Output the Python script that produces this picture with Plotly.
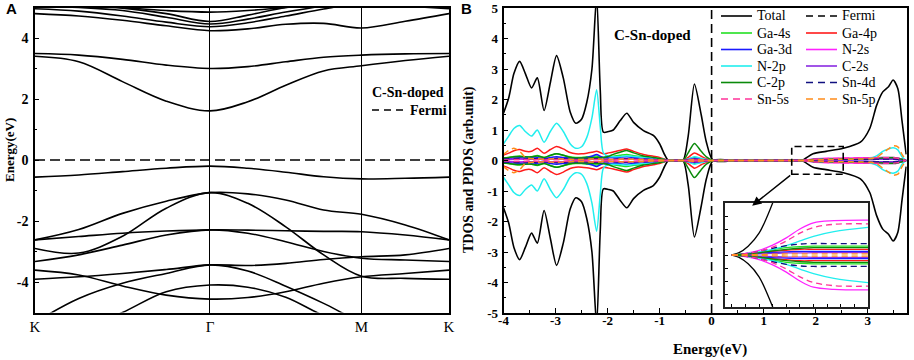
import plotly.graph_objects as go

W, H = 914, 360
SERIF = "Liberation Serif, Times New Roman, serif"

# ---------------- Panel A: band structure ----------------
k_dist = [0.0, 0.1057, 0.2113, 0.3170, 0.4226, 0.5141, 0.6057, 0.6972, 0.7887, 0.8944, 1.0]
k_label_pos = [0.0, 0.4226, 0.7887, 1.0]
k_labels = ["K", "Γ", "M", "K"]
a_ytick_vals = [-4, -2, 0, 2, 4]
a_ytick_text = ["-4", "-2", "0", "2", "4"]
fermi = 0.0

band_u5 = [5.20, 5.10, 5.00, 4.90, 4.85, 4.90, 5.00, 5.10, 5.20, 5.20, 5.20]
band_u4 = [5.10, 5.05, 4.98, 4.80, 4.54, 4.75, 5.00, 5.15, 5.30, 5.20, 5.10]
band_u3 = [5.05, 5.00, 4.90, 4.68, 4.46, 4.62, 4.85, 5.05, 5.20, 5.10, 5.05]
band_u2 = [4.96, 4.88, 4.72, 4.52, 4.37, 4.50, 4.72, 4.95, 5.15, 5.05, 4.96]
band_u1 = [4.80, 4.72, 4.58, 4.40, 4.24, 4.30, 4.45, 4.48, 4.33, 4.55, 4.80]
band_c2 = [3.49, 3.44, 3.30, 3.11, 3.00, 3.06, 3.22, 3.37, 3.44, 3.48, 3.49]
band_c1 = [3.40, 3.22, 2.57, 1.93, 1.61, 1.91, 2.45, 2.92, 3.09, 3.26, 3.40]
band_v1 = [-0.56, -0.49, -0.38, -0.27, -0.20, -0.27, -0.40, -0.55, -0.62, -0.60, -0.56]
band_v2 = [-2.62, -2.28, -1.75, -1.35, -1.07, -1.11, -1.31, -1.64, -1.78, -2.13, -2.62]
band_v3 = [-2.90, -3.05, -2.50, -1.58, -1.07, -1.42, -2.19, -3.11, -3.81, -3.88, -3.91]
band_v4 = [-2.62, -2.51, -2.40, -2.33, -2.29, -2.30, -2.32, -2.34, -2.35, -2.46, -2.62]
band_v5 = [-3.33, -3.11, -2.79, -2.46, -2.29, -2.40, -2.68, -3.00, -3.22, -3.28, -3.33]
band_v6 = [-3.91, -3.83, -3.72, -3.59, -3.44, -3.46, -3.39, -3.26, -3.17, -3.11, -2.90]
band_va = [-5.32, -4.54, -4.04, -3.72, -3.44, -3.64, -4.14, -4.70, -5.30, -5.60, -5.32]
band_vb = [-6.00, -5.60, -5.00, -4.32, -4.10, -4.17, -4.50, -5.10, -5.50, -5.80, -6.00]
band_vc = [-3.61, -3.77, -4.13, -4.43, -4.56, -4.51, -4.32, -4.04, -3.83, -3.72, -3.61]
bands = [band_u5, band_u4, band_u3, band_u2, band_u1, band_c2, band_c1, band_v1,
         band_v2, band_v3, band_v4, band_v5, band_v6, band_va, band_vb, band_vc]

# ---------------- Panel B: DOS ----------------
b_xtick_vals = [-4, -3, -2, -1, 0, 1, 2, 3]
b_xtick_text = ["-4", "-3", "-2", "-1", "0", "1", "2", "3"]
b_ytick_vals = [-5, -4, -3, -2, -1, 0, 1, 2, 3, 4, 5]
b_ytick_text = ["-5", "-4", "-3", "-2", "-1", "0", "1", "2", "3", "4", "5"]

energy = [-4.0, -3.9, -3.8, -3.69, -3.58, -3.46, -3.35, -3.22, -3.1, -2.98,
          -2.85, -2.72, -2.61, -2.5, -2.4, -2.3, -2.21, -2.14, -2.08, -1.98,
          -1.89, -1.76, -1.63, -1.5, -1.31, -1.12, -1.0, -0.9, -0.83, -0.7,
          -0.55, -0.45, -0.33, -0.2, -0.1, 0.03, 0.5, 1.0, 1.5, 1.73,
          1.95, 2.2, 2.53, 2.86, 3.04, 3.17, 3.29, 3.4, 3.49, 3.58,
          3.66, 3.74]
total_dos = [1.55, 2.05, 2.85, 3.25, 2.85, 2.38, 2.71, 1.64, 2.55, 3.44,
             2.7, 1.6, 1.22, 1.35, 1.9, 3.0, 5.4, 2.3, 0.93, 0.95,
             1.0, 1.3, 1.55, 1.25, 0.98, 0.82, 0.55, 0.18, 0.0, 0.0,
             0.0, 0.8, 2.51, 1.5, 0.6, 0.0, 0.0, 0.0, 0.0, 0.0,
             0.22, 0.3, 0.4, 0.6, 1.05, 1.8, 2.25, 2.42, 2.64, 2.35,
             1.3, 0.2]
ga4s = [0.08, 0.1, 0.13, 0.15, 0.12, 0.12, 0.16, 0.1, 0.16, 0.22,
        0.17, 0.12, 0.1, 0.1, 0.12, 0.14, 0.15, 0.12, 0.1, 0.12,
        0.14, 0.17, 0.2, 0.16, 0.12, 0.09, 0.06, 0.03, 0.0, 0.0,
        0.0, 0.04, 0.1, 0.05, 0.02, 0.0, 0.0, 0.0, 0.0, 0.0,
        0.03, 0.04, 0.05, 0.06, 0.07, 0.08, 0.1, 0.1, 0.1, 0.08,
        0.04, 0.0]
ga4p = [0.18, 0.24, 0.32, 0.36, 0.30, 0.30, 0.40, 0.24, 0.36, 0.46,
        0.38, 0.26, 0.22, 0.22, 0.24, 0.27, 0.30, 0.26, 0.22, 0.25,
        0.28, 0.33, 0.38, 0.30, 0.2, 0.14, 0.1, 0.04, 0.0, 0.0,
        0.0, 0.1, 0.25, 0.14, 0.06, 0.0, 0.0, 0.0, 0.0, 0.0,
        0.02, 0.03, 0.04, 0.04, 0.05, 0.06, 0.07, 0.08, 0.08, 0.06,
        0.03, 0.0]
ga3d = [0.05, 0.06, 0.08, 0.09, 0.08, 0.08, 0.09, 0.06, 0.1, 0.12,
        0.1, 0.07, 0.06, 0.07, 0.1, 0.14, 0.2, 0.14, 0.1, 0.1,
        0.1, 0.11, 0.12, 0.1, 0.08, 0.06, 0.04, 0.02, 0.0, 0.0,
        0.0, 0.03, 0.07, 0.04, 0.02, 0.0, 0.0, 0.0, 0.0, 0.0,
        0.02, 0.02, 0.03, 0.03, 0.04, 0.04, 0.05, 0.05, 0.05, 0.04,
        0.02, 0.0]
n2s = [0.03, 0.03, 0.04, 0.05, 0.04, 0.04, 0.05, 0.03, 0.04, 0.05,
       0.04, 0.03, 0.03, 0.03, 0.04, 0.05, 0.06, 0.05, 0.03, 0.03,
       0.03, 0.04, 0.05, 0.04, 0.03, 0.02, 0.02, 0.01, 0.0, 0.0,
       0.0, 0.01, 0.03, 0.02, 0.01, 0.0, 0.0, 0.0, 0.0, 0.0,
       0.05, 0.07, 0.08, 0.09, 0.09, 0.1, 0.1, 0.1, 0.1, 0.08,
       0.04, 0.0]
n2p = [0.55, 0.8, 1.05, 1.15, 0.95, 0.80, 1.0, 0.60, 0.95, 1.22,
       0.95, 0.55, 0.40, 0.45, 0.75, 1.4, 2.32, 1.1, 0.25, 0.13,
       0.12, 0.13, 0.15, 0.13, 0.1, 0.08, 0.06, 0.03, 0.0, 0.0,
       0.0, 0.05, 0.12, 0.07, 0.03, 0.0, 0.0, 0.0, 0.0, 0.0,
       0.03, 0.04, 0.05, 0.06, 0.07, 0.15, 0.3, 0.38, 0.42, 0.35,
       0.12, 0.0]
c2s = [0.03, 0.04, 0.05, 0.06, 0.05, 0.04, 0.05, 0.03, 0.05, 0.06,
       0.05, 0.03, 0.02, 0.02, 0.03, 0.04, 0.05, 0.04, 0.03, 0.03,
       0.04, 0.05, 0.06, 0.05, 0.04, 0.03, 0.02, 0.01, 0.0, 0.0,
       0.0, 0.03, 0.06, 0.03, 0.01, 0.0, 0.0, 0.0, 0.0, 0.0,
       0.01, 0.02, 0.02, 0.03, 0.03, 0.04, 0.04, 0.04, 0.04, 0.03,
       0.02, 0.0]
c2p = [0.08, 0.1, 0.12, 0.13, 0.12, 0.12, 0.15, 0.1, 0.17, 0.22,
       0.17, 0.1, 0.08, 0.08, 0.08, 0.09, 0.1, 0.09, 0.1, 0.14,
       0.2, 0.27, 0.33, 0.25, 0.15, 0.1, 0.07, 0.03, 0.0, 0.0,
       0.0, 0.25, 0.56, 0.3, 0.12, 0.0, 0.0, 0.0, 0.0, 0.0,
       0.03, 0.04, 0.05, 0.05, 0.06, 0.07, 0.08, 0.09, 0.09, 0.07,
       0.04, 0.0]
sn4d = [0.04, 0.05, 0.06, 0.06, 0.05, 0.05, 0.06, 0.04, 0.05, 0.07,
        0.06, 0.04, 0.03, 0.03, 0.04, 0.05, 0.06, 0.05, 0.04, 0.04,
        0.04, 0.05, 0.06, 0.05, 0.04, 0.03, 0.02, 0.01, 0.0, 0.0,
        0.0, 0.02, 0.04, 0.02, 0.01, 0.0, 0.0, 0.0, 0.0, 0.0,
        0.03, 0.04, 0.05, 0.05, 0.05, 0.05, 0.05, 0.05, 0.05, 0.04,
        0.02, 0.0]
sn5s = [0.02, 0.02, 0.03, 0.03, 0.03, 0.02, 0.03, 0.02, 0.03, 0.03,
        0.03, 0.02, 0.02, 0.02, 0.02, 0.03, 0.03, 0.03, 0.02, 0.02,
        0.02, 0.03, 0.03, 0.03, 0.02, 0.02, 0.01, 0.01, 0.0, 0.0,
        0.0, 0.01, 0.02, 0.01, 0.0, 0.0, 0.0, 0.0, 0.0, 0.0,
        0.04, 0.06, 0.07, 0.08, 0.08, 0.09, 0.09, 0.09, 0.09, 0.07,
        0.03, 0.0]
sn5p = [0.2, 0.33, 0.4, 0.3, 0.1, 0.06, 0.06, 0.04, 0.05, 0.06,
        0.05, 0.04, 0.03, 0.03, 0.04, 0.05, 0.05, 0.04, 0.03, 0.03,
        0.03, 0.04, 0.05, 0.04, 0.03, 0.02, 0.02, 0.01, 0.0, 0.0,
        0.0, 0.01, 0.03, 0.02, 0.01, 0.0, 0.0, 0.0, 0.0, 0.0,
        0.02, 0.03, 0.04, 0.05, 0.06, 0.1, 0.25, 0.38, 0.48, 0.45,
        0.2, 0.0]

# inset (zoomed view of the dashed box region, rescaled)
inset_energy = [1.70, 1.75, 1.82, 1.90, 2.00, 2.10, 2.20, 2.30, 2.45, 2.70]
inset_total = [0.0, 0.04, 0.17, 0.42, 1.0, 1.7, 2.4, 3.0, 3.0, 3.0]
inset_ga4s = [0.0, 0.01, 0.02, 0.05, 0.10, 0.14, 0.16, 0.17, 0.17, 0.17]
inset_ga4p = [0.0, 0.01, 0.02, 0.04, 0.07, 0.09, 0.11, 0.11, 0.11, 0.11]
inset_ga3d = [0.0, 0.005, 0.01, 0.03, 0.05, 0.06, 0.07, 0.07, 0.07, 0.07]
inset_n2s = [0.0, 0.01, 0.04, 0.09, 0.19, 0.33, 0.50, 0.62, 0.66, 0.67]
inset_n2p = [0.0, 0.01, 0.03, 0.06, 0.11, 0.18, 0.27, 0.36, 0.45, 0.53]
inset_c2s = [0.0, 0.005, 0.01, 0.02, 0.03, 0.04, 0.04, 0.045, 0.045, 0.045]
inset_c2p = [0.0, 0.01, 0.02, 0.04, 0.08, 0.11, 0.13, 0.14, 0.14, 0.14]
inset_sn4d = [0.0, 0.01, 0.03, 0.07, 0.13, 0.18, 0.21, 0.22, 0.22, 0.22]
inset_sn5s = [0.0, 0.01, 0.03, 0.07, 0.15, 0.27, 0.42, 0.53, 0.59, 0.60]
inset_sn5p = [0.0, 0.003, 0.006, 0.01, 0.015, 0.02, 0.02, 0.02, 0.02, 0.02]

box_energy = [1.54, 2.53]
box_dos = [-0.45, 0.46]
arrow_head = (0.78, -1.48)

# styles
orbital_names = ["Ga-4s", "Ga-4p", "Ga-3d", "N-2s", "N-2p", "C-2s", "C-2p", "Sn-4d", "Sn-5s", "Sn-5p"]
orbital_data = [ga4s, ga4p, ga3d, n2s, n2p, c2s, c2p, sn4d, sn5s, sn5p]
inset_data = [inset_ga4s, inset_ga4p, inset_ga3d, inset_n2s, inset_n2p,
              inset_c2s, inset_c2p, inset_sn4d, inset_sn5s, inset_sn5p]
orbital_colors = ["#22e022", "#ff1a1a", "#1a1aff", "#ff22ff", "#22eeee",
                  "#8a2be2", "#0a8a0a", "#101080", "#ff3399", "#ff8c1a"]
orbital_dash = ["solid"] * 7 + ["6px,4px"] * 3

fig = go.Figure()

# panel A traces
for b in bands:
    fig.add_trace(go.Scatter(x=k_dist, y=b, mode="lines", xaxis="x", yaxis="y",
                             line=dict(color="black", width=1.6, shape="spline", smoothing=1.0),
                             showlegend=False, hoverinfo="skip"))
fig.add_trace(go.Scatter(x=[k_dist[0], k_dist[-1]], y=[fermi, fermi], mode="lines",
                         xaxis="x", yaxis="y", showlegend=False,
                         line=dict(color="black", width=1.6, dash="10px,5px")))

# panel B traces
neg = lambda arr: [-v for v in arr]
for yy in (total_dos, neg(total_dos)):
    fig.add_trace(go.Scatter(x=energy, y=yy, mode="lines", xaxis="x2", yaxis="y2",
                             line=dict(color="black", width=1.6, shape="spline", smoothing=0.7),
                             showlegend=False))
for data, col, dsh in zip(orbital_data, orbital_colors, orbital_dash):
    for yy in (data, neg(data)):
        fig.add_trace(go.Scatter(x=energy, y=yy, mode="lines", xaxis="x2", yaxis="y2",
                                 line=dict(color=col, width=1.5, dash=dsh, shape="spline", smoothing=0.7),
                                 showlegend=False))
fig.add_trace(go.Scatter(x=[fermi, fermi], y=[b_ytick_vals[0], b_ytick_vals[-1]], mode="lines",
                         xaxis="x2", yaxis="y2",
                         line=dict(color="black", width=1.6, dash="9px,5px"), showlegend=False))

# inset traces
for yy in (inset_total, neg(inset_total)):
    fig.add_trace(go.Scatter(x=inset_energy, y=yy, mode="lines", xaxis="x3", yaxis="y3",
                             line=dict(color="black", width=1.3, shape="spline"), showlegend=False))
for data, col, dsh in zip(inset_data, orbital_colors, orbital_dash):
    for yy in (data, neg(data)):
        fig.add_trace(go.Scatter(x=inset_energy, y=yy, mode="lines", xaxis="x3", yaxis="y3",
                                 line=dict(color=col, width=1.3, dash=dsh, shape="spline"),
                                 showlegend=False))


def px(x):
    return x / W


def py(y):
    return 1 - y / H


tickfont_b = dict(family=SERIF, size=13, color="black", weight="bold")
axis_common = dict(showline=True, linecolor="black", linewidth=1.6, mirror=True,
                   zeroline=False, automargin=False)

fig.update_layout(
    width=W, height=H, margin=dict(l=0, r=0, t=0, b=0, pad=0),
    paper_bgcolor="white", plot_bgcolor="white", showlegend=False,
    xaxis=dict(domain=[px(35), px(449)], range=[k_dist[0], k_dist[-1]], anchor="y",
               tickmode="array", tickvals=k_label_pos, ticktext=k_labels, ticks="",
               showgrid=True, gridcolor="black", gridwidth=1.3, ticklabelstandoff=0,
               tickfont=dict(family=SERIF, size=15, color="black"), **axis_common),
    yaxis=dict(domain=[py(312.5), py(7.5)], range=[-5, 5], anchor="x",
               tickmode="array", tickvals=a_ytick_vals, ticktext=a_ytick_text,
               ticks="inside", ticklen=4, tickwidth=1.3, tickcolor="black", showgrid=False,
               minor=dict(dtick=1, tick0=0, ticks="inside", ticklen=2.5, tickcolor="black", showgrid=False),
               tickfont=dict(family=SERIF, size=14, color="black", weight="bold"),
               ticklabelstandoff=2, **axis_common),
    xaxis2=dict(domain=[px(503.5), px(906.7)], range=[-4, 3.75], anchor="y2",
                tickmode="array", tickvals=b_xtick_vals, ticktext=b_xtick_text,
                ticks="inside", ticklen=5, tickwidth=1.3, tickcolor="black", showgrid=False,
                minor=dict(dtick=0.5, tick0=0, ticks="inside", ticklen=3, tickcolor="black", showgrid=False),
                tickfont=tickfont_b, ticklabelstandoff=-5, **axis_common),
    yaxis2=dict(domain=[py(313), py(8)], range=[-5, 5], anchor="x2",
                tickmode="array", tickvals=b_ytick_vals, ticktext=b_ytick_text,
                ticks="inside", ticklen=5, tickwidth=1.3, tickcolor="black", showgrid=False,
                minor=dict(dtick=0.5, tick0=0, ticks="inside", ticklen=3, tickcolor="black", showgrid=False),
                tickfont=tickfont_b, ticklabelstandoff=1, **axis_common),
    xaxis3=dict(domain=[px(725), px(868)], range=[1.65, 2.70], anchor="y3", dtick=0.1, tick0=1.6,
                ticks="inside", ticklen=3, tickcolor="black", showticklabels=False, showgrid=False,
                showline=True, linecolor="#222", linewidth=1.5, mirror=True, zeroline=False),
    yaxis3=dict(domain=[py(307), py(203)], range=[-1, 1], anchor="x3", dtick=0.25, tick0=0,
                ticks="inside", ticklen=3, tickcolor="black", showticklabels=False, showgrid=False,
                showline=True, linecolor="#222", linewidth=1.5, mirror=True, zeroline=False),
)

shapes = []
annotations = []

# dashed box and arrow in panel B
shapes.append(dict(type="rect", xref="x2", yref="y2", x0=box_energy[0], x1=box_energy[1],
                   y0=box_dos[0], y1=box_dos[1], line=dict(color="black", width=1.6, dash="7px,4px")))
annotations.append(dict(xref="x2", yref="y2", axref="x2", ayref="y2", x=arrow_head[0], y=arrow_head[1],
                        ax=box_energy[0], ay=box_dos[0], text="", showarrow=True,
                        arrowhead=2, arrowsize=1.3, arrowwidth=1.4, arrowcolor="black"))

# panel A legend
annotations.append(dict(xref="paper", yref="paper", x=px(408), y=py(92), text="C-Sn-doped",
                        showarrow=False, xanchor="center", yanchor="middle",
                        font=dict(family=SERIF, size=14, color="black", weight="bold")))
shapes.append(dict(type="line", xref="paper", yref="paper", x0=px(372), x1=px(406), y0=py(110), y1=py(110),
                   line=dict(color="black", width=1.6, dash="7px,5px")))
annotations.append(dict(xref="paper", yref="paper", x=px(408), y=py(110), text="Fermi",
                        showarrow=False, xanchor="left", yanchor="middle",
                        font=dict(family=SERIF, size=14, color="black", weight="bold")))

# panel B label
annotations.append(dict(xref="paper", yref="paper", x=px(652), y=py(35), text="C-Sn-doped",
                        showarrow=False, xanchor="center", yanchor="middle",
                        font=dict(family=SERIF, size=15, color="black", weight="bold")))

# panel B legend (two columns)
legend_names = ["Total", "Fermi"]
legend_colors = ["black", "black"]
legend_dash = ["solid", "7px,5px"]
for n, c, d in zip(orbital_names, orbital_colors, orbital_dash):
    legend_names.append(n)
    legend_colors.append(c)
    legend_dash.append(d if d == "solid" else "7px,5px")
row_y = [16, 33, 49.5, 66, 82.5, 99]
col_x = [(721, 752, 755), (806, 837, 840)]
for i, (n, c, d) in enumerate(zip(legend_names, legend_colors, legend_dash)):
    r, cidx = divmod(i, 2)
    x0, x1, xt = col_x[cidx]
    shapes.append(dict(type="line", xref="paper", yref="paper", x0=px(x0), x1=px(x1),
                       y0=py(row_y[r]), y1=py(row_y[r]), line=dict(color=c, width=1.6, dash=d)))
    annotations.append(dict(xref="paper", yref="paper", x=px(xt), y=py(row_y[r]), text=n,
                            showarrow=False, xanchor="left", yanchor="middle",
                            font=dict(family=SERIF, size=14, color="black")))

# axis titles and panel letters
annotations.append(dict(xref="paper", yref="paper", x=px(9), y=py(150), text="Energy(eV)",
                        textangle=-90, showarrow=False, xanchor="center", yanchor="middle",
                        font=dict(family=SERIF, size=13, color="black", weight="bold")))
annotations.append(dict(xref="paper", yref="paper", x=px(469), y=py(170), text="TDOS and PDOS (arb.unit)",
                        textangle=-90, showarrow=False, xanchor="center", yanchor="middle",
                        font=dict(family=SERIF, size=14, color="black", weight="bold")))
annotations.append(dict(xref="paper", yref="paper", x=px(710), y=py(349), text="Energy(eV)",
                        showarrow=False, xanchor="center", yanchor="middle",
                        font=dict(family=SERIF, size=15, color="black", weight="bold")))
annotations.append(dict(xref="paper", yref="paper", x=px(11), y=py(8), text="A",
                        showarrow=False, xanchor="center", yanchor="middle",
                        font=dict(family="Liberation Sans, Arial", size=15, color="black", weight="bold")))
annotations.append(dict(xref="paper", yref="paper", x=px(467), y=py(8), text="B",
                        showarrow=False, xanchor="center", yanchor="middle",
                        font=dict(family="Liberation Sans, Arial", size=15, color="black", weight="bold")))

fig.update_layout(shapes=shapes, annotations=annotations)
fig.write_html("out.html", config={"displayModeBar": False},
               post_script="document.body.style.margin='0px';document.body.style.overflow='hidden';")
